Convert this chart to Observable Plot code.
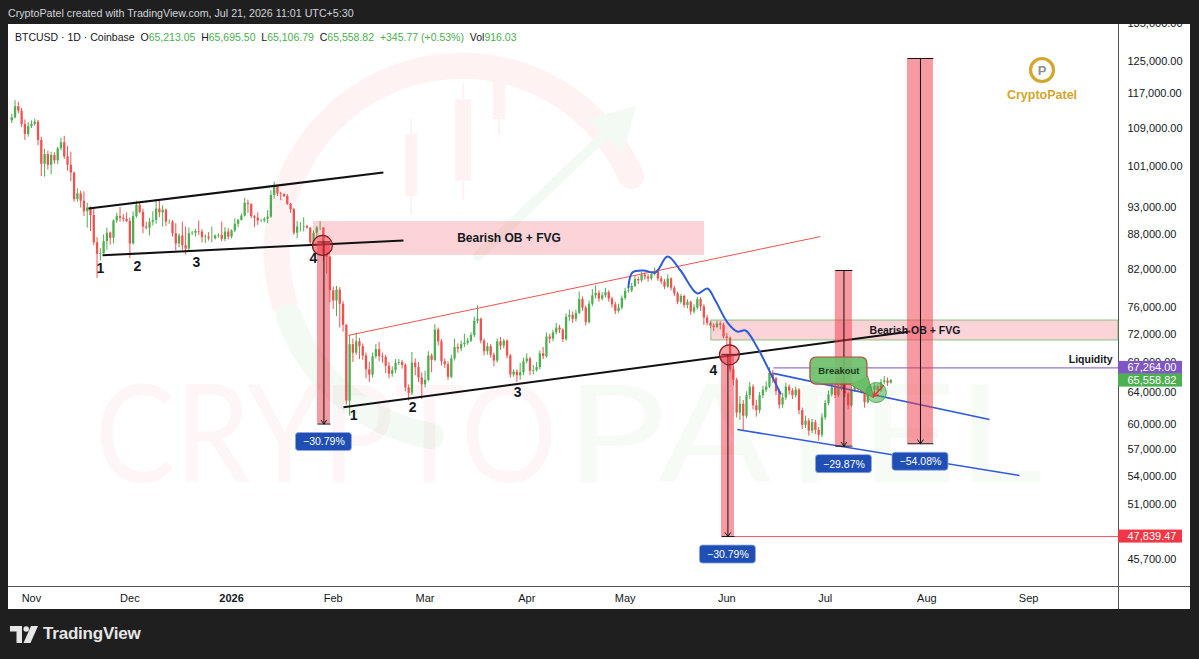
<!DOCTYPE html>
<html>
<head>
<meta charset="utf-8">
<script src="https://cdn.jsdelivr.net/npm/d3@7"></script>
<script src="https://cdn.jsdelivr.net/npm/@observablehq/plot@0.6"></script>
<style>
html,body{margin:0;padding:0;}
body{background:#1f1f1f;width:1199px;height:659px;overflow:hidden;position:relative;font-family:"Liberation Sans",Arial,sans-serif;}
#top{position:absolute;left:8px;top:5px;color:#d1d4dc;font-size:10.7px;line-height:16px;white-space:nowrap;}
#panel{position:absolute;left:8px;top:24px;width:1182px;height:585px;background:#fff;overflow:hidden;}
#wm,#chart,#logo{position:absolute;left:0;top:0;}
#legend{position:absolute;left:7px;top:6px;font-size:10.5px;line-height:14px;color:#131722;white-space:nowrap;}
#legend .v{color:#4caf50;}
#vsep{position:absolute;left:1110px;top:0;width:1px;height:585px;background:#50535e;}
#hsep{position:absolute;left:0;top:562px;width:1182px;height:1px;background:#50535e;}
#tv{position:absolute;left:10px;top:624px;display:flex;align-items:center;gap:5px;color:#e6e6e6;font-size:17px;font-weight:bold;letter-spacing:-0.2px;}
</style>
</head>
<body>
<div id="top">CryptoPatel created with TradingView.com, Jul 21, 2026 11:01 UTC+5:30</div>
<div id="panel">
  <svg id="wm" width="1182" height="585">
    <g opacity="0.06" fill="none" stroke-linecap="round">
      <path d="M276 278 A185 185 0 0 1 623 152" stroke="#f23645" stroke-width="26"/>
      <path d="M281 293 A185 185 0 0 0 423 412" stroke="#4caf50" stroke-width="26"/>
      <line x1="403" y1="95" x2="403" y2="190" stroke="#f23645" stroke-width="2"/>
      <rect x="397" y="110" width="12" height="62" fill="#f23645" stroke="none"/>
      <line x1="455" y1="60" x2="455" y2="175" stroke="#f23645" stroke-width="2"/>
      <rect x="447" y="75" width="16" height="82" fill="#f23645" stroke="none"/>
      <line x1="491" y1="40" x2="491" y2="110" stroke="#f23645" stroke-width="2"/>
      <rect x="485" y="55" width="12" height="40" fill="#f23645" stroke="none"/>
      <path d="M470 232 L600 108" stroke="#4caf50" stroke-width="10"/>
      <path d="M580 95 L628 82 L615 130 Z" fill="#4caf50" stroke="none"/>
    </g>
    <text x="87" y="458" font-family="Lato, 'Open Sans', sans-serif" font-size="135" fill="#f23645" opacity="0.045" textLength="462" lengthAdjust="spacingAndGlyphs">CRYPTO</text>
    <text x="557" y="458" font-family="Lato, 'Open Sans', sans-serif" font-size="135" fill="#4caf50" opacity="0.045" textLength="478" lengthAdjust="spacingAndGlyphs">PATEL</text>
  </svg>
  <div id="vsep"></div>
  <div id="hsep"></div>
  <div id="chart"></div>
  <svg id="logo" width="1182" height="120" style="pointer-events:none">
    <circle cx="1034" cy="46" r="11.5" fill="none" stroke="#d4a72c" stroke-width="3.2"/>
    <text x="1034" y="51" text-anchor="middle" font-family="Liberation Sans, Arial" font-weight="bold" font-size="13" fill="#8f8f8f">P</text>
    <text x="1034" y="75" text-anchor="middle" font-family="Liberation Sans, Arial" font-weight="bold" font-size="12.5" fill="#d3a62a">CryptoPatel</text>
  </svg>
  <div id="legend"></div>
</div>
<div id="tv">
  <svg width="28" height="17" viewBox="0 0 28 17"><path d="M0 0h12v17h-5.5v-11.5h-6.5z" fill="#e6e6e6"/><circle cx="16.2" cy="3" r="2.8" fill="#e6e6e6"/><path d="M21 0h7l-7.5 17h-7z" fill="#e6e6e6"/></svg>
  <span>TradingView</span>
</div>
<script>
// ---------- DATA (prices in thousands of USD, one candle per day) ----------
const firstDay = "2025-10-26";
const firstOpen = 110.8;
const closes = [
  // Oct 26-31
  111.5,114.0,113.0,110.0,107.8,109.5,
  // Nov
  110.0,110.5,106.5,101.5,103.5,101.3,103.3,102.2,104.7,106.0,
  103.0,101.3,99.7,94.5,95.6,94.2,92.2,92.9,91.5,86.6,
  84.6,84.7,86.8,88.3,87.4,90.5,91.3,91.0,90.8,90.4,
  // Dec
  86.4,91.3,93.4,92.1,89.4,89.2,90.3,90.6,92.7,92.0,
  92.5,90.3,90.3,88.2,86.4,87.8,86.1,85.5,88.2,88.3,
  88.6,88.5,87.5,87.6,87.3,87.3,87.8,87.9,87.2,88.5,87.6,
  // Jan
  88.7,89.9,90.6,91.4,93.8,93.6,91.3,91.0,90.5,90.5,
  90.8,91.2,95.3,97.0,95.6,95.5,95.1,93.6,92.6,88.3,
  89.4,89.4,89.5,89.2,86.6,88.3,89.2,89.2,84.6,84.1,78.6,
  // Feb
  77.0,78.7,76.5,73.3,62.9,70.5,69.3,70.9,70.2,68.9,
  67.0,66.3,68.8,69.8,68.8,68.7,67.5,66.4,66.9,67.9,
  68.0,67.6,64.6,63.9,67.9,67.3,65.9,65.0,
  // Mar
  65.6,68.9,68.3,72.6,70.9,68.1,67.7,66.0,68.5,70.1,
  69.9,70.5,70.7,71.0,71.8,73.9,74.2,71.0,69.5,70.2,
  69.0,68.2,70.9,70.3,71.0,68.9,66.3,66.7,66.2,66.6,68.1,
  // Apr
  68.5,66.8,66.9,67.3,69.2,68.8,71.6,71.3,72.2,72.9,
  72.6,71.2,74.5,74.8,74.2,75.1,77.2,75.9,73.7,76.5,
  77.8,78.2,77.3,77.8,78.3,77.3,76.4,75.4,75.9,77.4,
  // May
  78.5,78.6,79.3,80.4,80.2,81.1,80.8,80.5,81.2,81.7,
  80.5,80.0,79.2,80.5,79.0,78.1,76.8,77.7,76.3,76.8,
  75.3,75.9,77.2,76.1,74.4,73.6,73.2,73.0,73.5,73.3,71.6,
  // Jun
  71.4,67.0,65.6,61.4,62.5,61.0,63.6,64.7,62.3,61.7,
  63.6,64.3,64.7,66.5,65.8,64.1,62.4,63.3,64.7,64.2,
  63.6,64.3,61.7,59.9,60.4,59.2,60.2,59.3,58.7,60.8,
  // Jul 1-21
  62.6,63.7,64.6,63.6,64.5,65.2,63.8,62.3,64.3,64.8,
  64.4,64.2,62.7,64.0,64.3,64.8,64.2,65.3,65.5,65.21305,65.55882
];
const highs = [
  112.3,115.4,115.0,113.6,111.0,110.4,
  110.8,111.2,110.9,107.2,104.6,104.2,104.0,103.9,105.0,107.0,
  107.4,105.2,104.0,99.9,96.6,96.1,96.0,93.8,93.1,93.0,
  87.5,85.6,88.0,89.2,88.5,90.7,91.9,93.0,91.7,92.0,
  91.0,92.2,94.2,94.0,92.7,90.3,91.0,92.2,94.5,94.4,
  93.3,92.7,90.7,90.6,90.0,88.2,90.3,89.4,89.2,88.6,
  89.0,90.5,88.9,88.0,88.4,89.4,88.0,88.2,90.3,89.3,89.1,
  88.9,90.9,90.8,91.8,94.7,94.4,93.7,91.5,92.0,90.8,
  91.1,92.4,96.2,97.9,97.2,95.9,95.6,95.5,93.8,92.8,
  90.4,90.2,91.1,89.7,89.3,88.7,89.5,90.4,89.3,84.9,84.3,
  79.2,79.3,79.1,76.9,73.4,71.8,71.3,72.1,71.4,70.6,
  69.3,68.0,69.3,70.5,70.8,69.3,69.0,68.0,67.4,68.4,
  68.4,68.3,67.8,65.0,69.4,68.5,68.0,66.6,
  66.8,69.5,69.2,73.4,72.9,71.2,68.5,68.1,69.0,71.3,
  70.6,71.0,72.0,71.4,72.2,74.5,76.2,74.4,71.3,70.7,
  70.5,69.3,71.3,71.5,71.3,71.2,69.1,67.0,67.0,67.9,68.6,
  69.2,68.7,67.6,68.0,69.6,70.1,72.2,72.0,72.6,73.6,
  73.3,72.8,75.0,75.6,75.3,75.6,78.4,77.6,76.2,77.0,
  78.8,79.4,78.6,78.3,79.0,78.6,77.6,76.8,76.5,77.8,
  79.0,79.1,79.8,81.0,80.8,81.6,81.5,81.2,81.6,82.3,
  82.0,80.9,80.4,81.2,80.7,79.3,78.4,78.0,77.9,77.2,
  77.0,76.4,77.6,77.5,76.4,74.8,73.9,73.5,73.9,73.8,73.6,
  72.1,71.6,67.5,65.9,63.5,63.0,64.1,65.3,65.0,63.0,
  64.0,64.8,65.4,67.3,66.9,66.0,64.4,63.9,65.2,65.0,
  64.5,64.7,64.5,62.0,61.0,60.7,60.6,60.5,59.6,61.3,
  63.0,64.2,65.3,65.0,65.0,65.8,65.4,64.0,64.7,65.3,
  65.1,64.7,64.4,64.5,64.8,65.2,65.0,65.7,66.1,65.9,65.6955
];
const lows = [
  110.2,111.2,112.4,109.3,106.5,107.2,
  109.1,109.6,105.4,99.0,98.9,100.3,99.4,101.5,101.4,104.3,
  102.5,100.1,98.0,94.0,94.0,92.9,91.3,89.2,88.6,86.1,
  80.6,83.5,84.6,85.3,86.2,86.4,90.1,90.3,90.3,90.2,
  83.9,86.2,91.0,91.8,88.2,88.9,87.8,89.6,89.9,91.1,
  89.4,89.5,89.9,87.6,85.2,85.7,85.3,84.5,85.2,87.9,
  87.6,87.9,86.6,86.5,86.9,86.6,87.1,87.4,86.8,86.8,87.1,
  87.3,88.4,89.3,90.5,91.2,91.9,90.9,89.3,89.7,90.2,
  90.2,90.0,91.0,94.6,95.1,94.3,94.9,93.4,91.9,87.9,
  87.3,88.5,88.5,89.0,86.2,86.4,87.6,88.8,83.4,81.3,76.7,
  75.7,74.6,72.9,72.3,62.4,61.0,68.0,69.0,68.4,68.3,
  65.8,65.3,65.9,68.5,68.1,67.9,66.5,65.8,66.0,66.5,
  67.6,67.1,64.1,62.9,63.6,66.2,65.3,63.1,
  64.6,65.4,66.6,68.1,70.3,67.5,67.2,65.6,65.8,68.2,
  69.3,69.5,70.1,70.4,70.8,71.5,73.5,70.6,68.9,69.0,
  68.6,67.4,67.9,69.7,69.9,68.5,65.9,66.0,65.3,65.6,66.2,
  67.8,66.2,66.3,66.7,67.0,68.4,68.6,70.6,70.9,71.9,
  72.1,70.8,71.0,73.9,73.6,73.8,74.9,75.4,73.2,73.5,
  76.1,77.3,76.8,77.0,77.5,76.8,75.9,74.9,75.1,75.6,
  77.1,78.2,78.3,79.1,79.6,79.9,80.3,80.0,80.2,81.0,
  80.1,79.6,78.8,79.0,78.6,77.7,76.4,76.5,75.9,75.8,
  74.8,75.0,75.6,75.4,73.3,73.2,72.8,72.4,72.8,72.6,71.3,
  70.2,66.6,64.9,60.8,60.5,59.3,60.7,63.1,61.8,60.9,
  61.3,63.2,64.0,64.5,65.2,63.6,61.9,62.0,63.0,63.7,
  63.1,63.3,61.2,59.4,59.5,58.6,58.9,58.8,58.0,58.4,
  60.5,62.3,63.4,63.2,63.3,64.2,63.3,61.8,62.1,64.0,
  64.0,63.8,62.0,62.5,63.8,64.1,63.8,64.0,65.0,64.8,65.10679
];
const lastVolume = 916.03;

// axis ticks
const yTicks = [135000,125000,117000,109000,101000,93000,88000,82000,76000,72000,68000,64000,60000,57000,54000,51000,48000,45700];
const monthTicks = ["2025-11-01","2025-12-01","2026-01-01","2026-02-01","2026-03-01","2026-04-01","2026-05-01","2026-06-01","2026-07-01","2026-08-01","2026-09-01"];
const monthLabels = ["Nov","Dec","2026","Feb","Mar","Apr","May","Jun","Jul","Aug","Sep"];
const viewRange = {from: "2025-10-25T00:00", to: "2026-09-28T10:00", low: 43250, high: 134600};

// drawings (date, price)
const blackLines = [
  {x1:"2025-11-18T09:00", y1:92800, x2:"2026-02-16T07:00", y2:99800},
  {x1:"2025-11-22T16:00", y1:84430, x2:"2026-02-22T10:00", y2:87010},
  {x1:"2026-02-04T03:00", y1:62120, x2:"2026-07-27T00:00", y2:72400}
];
const redTrend = [{x1:"2026-02-05T15:00", y1:71830, x2:"2026-06-29T13:00", y2:87700}];
const wedgeLines = [
  {x1:"2026-06-15T05:00", y1:66520, x2:"2026-08-20T02:00", y2:60600},
  {x1:"2026-06-04T05:00", y1:59390, x2:"2026-08-29T05:00", y2:54120}
];
const obBoxes = [
  {x1:"2026-01-25T23:30", x2:"2026-05-25T05:00", y1:84430, y2:90400, label:"Bearish OB + FVG"},
  {x1:"2026-05-27T07:00", x2:null, y1:71090, y2:74020, label:"Bearish OB + FVG"}
];
const rangeBars = [
  {x1:"2026-01-27T05:00", x2:"2026-01-31T04:00", xc:"2026-01-29T04:00", top:86760, bottom:60050, pct:"−30.79%"},
  {x1:"2026-05-30T09:00", x2:"2026-06-03T08:00", xc:"2026-06-01T08:00", top:69120, bottom:47839.47, pct:"−30.79%"},
  {x1:"2026-07-04T02:00", x2:"2026-07-09T07:00", xc:"2026-07-06T17:00", top:81890, bottom:57430, pct:"−29.87%"},
  {x1:"2026-07-26T02:00", x2:"2026-08-03T00:00", xc:"2026-07-30T01:00", top:125670, bottom:57706, pct:"−54.08%"}
];
const breakCircles = [{x:"2026-01-28T17:00", y:86140}, {x:"2026-06-01T19:00", y:69060}];
const waveLabels = [
  {x:"2025-11-22T01:00", y:82220, t:"1"}, {x:"2025-12-03T07:00", y:82550, t:"2"},
  {x:"2025-12-21T07:00", y:83220, t:"3"}, {x:"2026-01-25T23:00", y:83900, t:"4"},
  {x:"2026-02-07T05:00", y:61100, t:"1"}, {x:"2026-02-25T05:00", y:62120, t:"2"},
  {x:"2026-03-29T05:00", y:64000, t:"3"}, {x:"2026-05-27T22:00", y:66910, t:"4"}
];
const blueCurve = [
  {x:"2026-05-02T00:00", y:79120}, {x:"2026-05-03T05:00", y:81570}, {x:"2026-05-06T14:00", y:81900},
  {x:"2026-05-10T06:00", y:81570}, {x:"2026-05-13T22:00", y:84230}, {x:"2026-05-17T21:00", y:81890},
  {x:"2026-05-23T01:00", y:78180}, {x:"2026-05-26T02:00", y:78970}, {x:"2026-05-28T12:00", y:77070},
  {x:"2026-06-01T05:00", y:73720}, {x:"2026-06-04T05:00", y:72390}, {x:"2026-06-06T17:00", y:72540},
  {x:"2026-06-10T07:00", y:70090}, {x:"2026-06-13T10:00", y:67370}, {x:"2026-06-17T08:00", y:63870}
];
const callout = [{x1:"2026-06-26T12:00", x2:"2026-07-13T21:00", y1:65040, y2:68690, text:"Breakout"}];
const calloutTail = [{x:"2026-07-08T17:00", y:65040}, {x:"2026-07-15T17:00", y:63360}, {x:"2026-07-13T21:00", y:66140}];
const breakoutCircle = [{x:"2026-07-16T14:00", y:64000}];
const breakoutArrow = [{x1:"2026-07-18T18:00", y1:64910, x2:"2026-07-15T17:00", y2:63490}];
const liquidity = [{x1:"2026-06-15T05:00", price:67264, label:"Liquidity"}];
const targetLevel = [{x1:"2026-06-03T00:00", price:47839.47}];
const priceTags = [{price:67264}, {price:65558.82}, {price:47839.47}];

// ---------- BUILD ----------
const T = s => new Date(s.length === 10 ? s + "T00:00:00Z" : s + ":00Z");
const xStart = T(viewRange.from), xEnd = T(viewRange.to);
const d0 = T(firstDay);
const candles = closes.map((c, i) => ({
  date: d3.utcDay.offset(d0, i),
  open: (i ? closes[i - 1] : firstOpen) * 1000,
  close: c * 1000, high: highs[i] * 1000, low: lows[i] * 1000
}));
const UP = "#4caf50", DOWN = "#ef5350", BLUE = "#2f5bd9", BADGE = "#1f4eb4";
const tagColors = ["#7e57c2", "#4caf50", "#f23645"];
const col = d => d.close >= d.open ? UP : DOWN;
const mTicks = monthTicks.map(T);
const fmtPrice = d3.format(",.2f");
const gm = (a, b) => Math.sqrt(a * b);
const mid = (a, b) => new Date((+a + +b) / 2);

const chart = Plot.plot({
  width: 1182, height: 585,
  marginLeft: 0, marginRight: 72, marginTop: 0, marginBottom: 23,
  style: {background: "transparent", fontFamily: "'Liberation Sans', Arial, sans-serif", fontSize: "11px", color: "#131722", overflow: "visible"},
  x: {type: "utc", domain: [xStart, xEnd], axis: null},
  y: {type: "log", domain: [viewRange.low, viewRange.high], axis: null},
  marks: [
    Plot.axisY(yTicks, {anchor: "right", tickSize: 0, tickPadding: 9, tickFormat: fmtPrice, fontSize: 11}),
    Plot.axisX(mTicks, {anchor: "bottom", tickSize: 0, tickPadding: 8, tickFormat: d => monthLabels[mTicks.findIndex(m => +m === +d)], fontSize: 11}),
    // candles
    Plot.ruleX(candles, {x: "date", y1: "low", y2: "high", stroke: col, strokeWidth: 1}),
    Plot.ruleX(candles, {x: "date", y1: "open", y2: "close", stroke: col, strokeWidth: 2.3}),
    // order block boxes
    Plot.rect(obBoxes, {x1: d => T(d.x1), x2: d => d.x2 ? T(d.x2) : xEnd, y1: "y1", y2: "y2", fill: "#f23645", fillOpacity: 0.22,
      stroke: (d, i) => i ? "#4caf50" : "none", strokeOpacity: 0.8, strokeWidth: 0.8}),
    // trend lines
    Plot.link(redTrend, {x1: d => T(d.x1), y1: "y1", x2: d => T(d.x2), y2: "y2", stroke: "#ef5350", strokeWidth: 1}),
    Plot.link(blackLines, {x1: d => T(d.x1), y1: "y1", x2: d => T(d.x2), y2: "y2", stroke: "#111", strokeWidth: 2}),
    Plot.link(wedgeLines, {x1: d => T(d.x1), y1: "y1", x2: d => T(d.x2), y2: "y2", stroke: BLUE, strokeWidth: 1.6}),
    Plot.line(blueCurve, {x: d => T(d.x), y: "y", stroke: BLUE, strokeWidth: 2, curve: "catmull-rom"}),
    // levels
    Plot.link(liquidity, {x1: d => T(d.x1), x2: () => xEnd, y1: "price", y2: "price", stroke: "#9575cd", strokeWidth: 1.2}),
    Plot.link(targetLevel, {x1: d => T(d.x1), x2: () => xEnd, y1: "price", y2: "price", stroke: "#f7525f", strokeWidth: 1}),
    // price range tools
    Plot.rect(rangeBars, {x1: d => T(d.x1), x2: d => T(d.x2), y1: "top", y2: "bottom", fill: "#f23645", fillOpacity: 0.5}),
    Plot.link(rangeBars, {x1: d => T(d.x1), x2: d => T(d.x2), y1: "top", y2: "top", stroke: "#111", strokeWidth: 1}),
    Plot.link(rangeBars, {x1: d => T(d.x1), x2: d => T(d.x2), y1: "bottom", y2: "bottom", stroke: "#111", strokeWidth: 1}),
    Plot.arrow(rangeBars, {x1: d => T(d.xc), x2: d => T(d.xc), y1: "top", y2: "bottom", stroke: "#111", strokeWidth: 1, headLength: 7, headAngle: 70}),
    // circles
    Plot.dot(breakCircles, {x: d => T(d.x), y: "y", r: 10, fill: "#f23645", fillOpacity: 0.45, stroke: "#7a1f1f", strokeWidth: 1.2}),
    // wave labels
    Plot.text(waveLabels, {x: d => T(d.x), y: "y", text: "t", fontSize: 14, fontWeight: "bold", fill: "#131722"}),
    // OB labels
    Plot.text(obBoxes.slice(0, 1), {x: d => mid(T(d.x1), T(d.x2)), y: d => gm(d.y1, d.y2), text: "label", fontSize: 12, fontWeight: "bold", fill: "#131722"}),
    Plot.text(obBoxes.slice(1), {x: d => mid(T(d.x1), xEnd), y: d => gm(d.y1, d.y2), text: "label", fontSize: 10.5, fontWeight: "bold", fill: "#131722"}),
    // breakout callout
    Plot.line(calloutTail, {x: d => T(d.x), y: "y", fill: "#6abf69", stroke: "#b5463c", strokeWidth: 1.2}),
    Plot.rect(callout, {x1: d => T(d.x1), x2: d => T(d.x2), y1: "y1", y2: "y2", rx: 6, fill: "#6abf69", fillOpacity: 0.9, stroke: "#b5463c", strokeWidth: 1.2}),
    Plot.line(calloutTail, {x: d => T(d.x), y: "y", fill: "#6abf69", stroke: "none"}),
    Plot.text(callout, {x: d => mid(T(d.x1), T(d.x2)), y: d => gm(d.y1, d.y2), text: "text", fontSize: 9.5, fontWeight: "bold", fill: "#1b3a1b"}),
    Plot.dot(breakoutCircle, {x: d => T(d.x), y: "y", r: 10, fill: "#4caf50", fillOpacity: 0.55, stroke: "#4caf50", strokeWidth: 1}),
    Plot.arrow(breakoutArrow, {x1: d => T(d.x1), y1: "y1", x2: d => T(d.x2), y2: "y2", stroke: "#e53935", strokeWidth: 1.5, headLength: 5}),
    Plot.text(liquidity, {x: () => xEnd, y: "price", text: "label", textAnchor: "end", dx: -6, dy: -8, fontSize: 10.5, fontWeight: "bold", fill: "#131722"}),
    // percent badges
    Plot.rect(rangeBars, {x1: d => T(d.xc), x2: d => T(d.xc), y1: "bottom", y2: "bottom", insetLeft: -28, insetRight: -28, insetTop: 9, insetBottom: -27, rx: 3, fill: BADGE, stroke: "#8fa8e6", strokeWidth: 0.8}),
    Plot.text(rangeBars, {x: d => T(d.xc), y: "bottom", dy: 18, text: "pct", fill: "white", fontSize: 10.5}),
    // price tags on the axis
    Plot.rect(priceTags, {x1: () => xEnd, x2: () => xEnd, y1: "price", y2: "price", insetLeft: 0, insetRight: -64, insetTop: -6.5, insetBottom: -6.5, fill: (d, i) => tagColors[i]}),
    Plot.text(priceTags, {x: () => xEnd, y: "price", dx: 9, textAnchor: "start", text: d => fmtPrice(d.price), fill: "white", fontSize: 11})
  ]
});
document.getElementById("chart").appendChild(chart);
chart.querySelectorAll("text").forEach(t => { if (t.textContent === "2026") t.setAttribute("font-weight", "bold"); });

// legend from the last candle
const last = candles[candles.length - 1];
const chg = last.close - last.open;
const f2 = d3.format(",.2f");
document.getElementById("legend").innerHTML =
  `BTCUSD · 1D · Coinbase&nbsp;&nbsp;O<span class="v">${f2(last.open)}</span>&nbsp;&nbsp;H<span class="v">${f2(last.high)}</span>&nbsp;&nbsp;L<span class="v">${f2(last.low)}</span>&nbsp;&nbsp;C<span class="v">${f2(last.close)}</span>&nbsp;&nbsp;<span class="v">${chg >= 0 ? "+" : ""}${f2(chg)} (${chg >= 0 ? "+" : ""}${(chg / last.open * 100).toFixed(2)}%)</span>&nbsp;&nbsp;Vol<span class="v">${f2(lastVolume)}</span>`;
</script>
</body>
</html>
